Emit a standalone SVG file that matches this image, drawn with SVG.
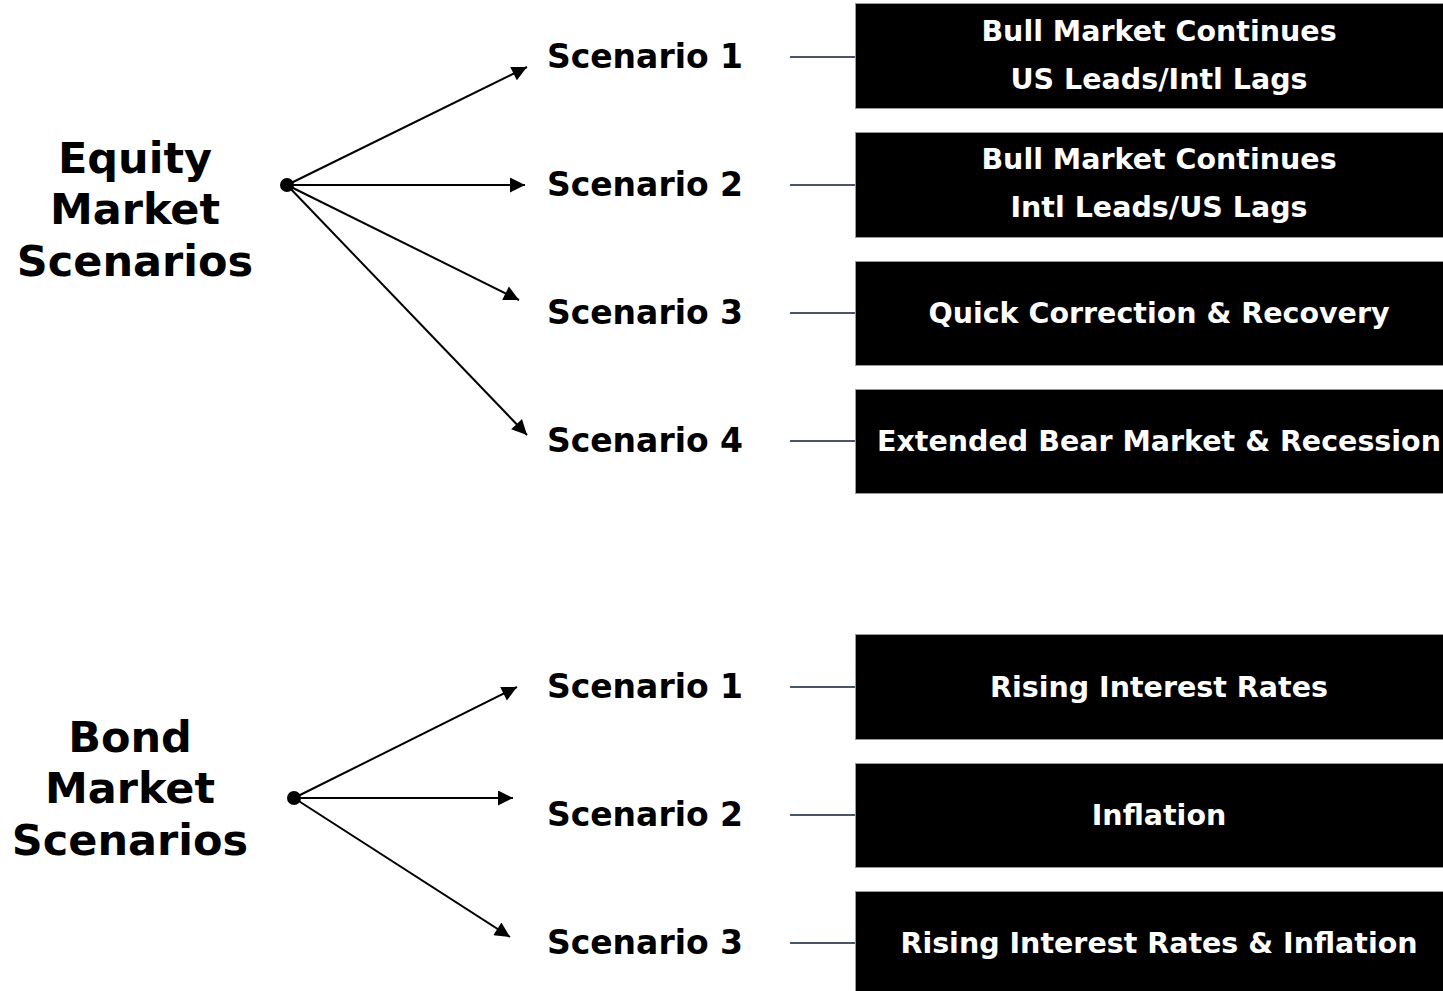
<svg xmlns="http://www.w3.org/2000/svg" width="1443" height="991" viewBox="0 0 1443 991">
  <style>
    .head { font-family: "DejaVu Sans", "Liberation Sans", sans-serif; font-weight: bold; font-size: 43px; fill: #000; text-anchor: middle; }
    .scn { font-family: "DejaVu Sans", "Liberation Sans", sans-serif; font-weight: bold; font-size: 33px; fill: #000; text-anchor: middle; }
    .box { fill: #000; stroke: #9a9a9a; stroke-width: 1; }
    .btxt { font-family: "DejaVu Sans", "Liberation Sans", sans-serif; font-weight: bold; font-size: 28.5px; fill: #fff; text-anchor: middle; }
    .arr { stroke: #000; stroke-width: 2; fill: none; marker-end: url(#ah); }
    .tie { stroke: #4a5566; stroke-width: 2; }
  </style>
  <defs>
    <marker id="ah" viewBox="0 0 10 10" refX="10" refY="5" markerWidth="8" markerHeight="7.5" markerUnits="strokeWidth" orient="auto">
      <path d="M0,0 L10,5 L0,10 z" fill="#000"/>
    </marker>
  </defs>
  <rect width="1443" height="991" fill="#fff"/>

  <g id="equity-head">
    <text class="head" x="135" y="173">Equity</text>
    <text class="head" x="135" y="224">Market</text>
    <text class="head" x="135" y="276">Scenarios</text>
    <circle cx="287" cy="185" r="7" fill="#000"/>
  </g>
  <g id="bond-head">
    <text class="head" x="130" y="752">Bond</text>
    <text class="head" x="130" y="803">Market</text>
    <text class="head" x="130" y="855">Scenarios</text>
    <circle cx="294" cy="798" r="7" fill="#000"/>
  </g>

  <g id="connectors">
    <line class="arr" x1="287" y1="185" x2="527" y2="67"/>
    <line class="arr" x1="287" y1="185" x2="525" y2="185"/>
    <line class="arr" x1="287" y1="185" x2="519" y2="300"/>
    <line class="arr" x1="287" y1="185" x2="527" y2="435"/>
    <line class="arr" x1="294" y1="798" x2="517" y2="687"/>
    <line class="arr" x1="294" y1="798" x2="513" y2="798"/>
    <line class="arr" x1="294" y1="798" x2="510" y2="937"/>
    <line class="tie" x1="790" y1="57" x2="856" y2="57"/>
    <line class="tie" x1="790" y1="185" x2="856" y2="185"/>
    <line class="tie" x1="790" y1="313" x2="856" y2="313"/>
    <line class="tie" x1="790" y1="441" x2="856" y2="441"/>
    <line class="tie" x1="790" y1="687" x2="856" y2="687"/>
    <line class="tie" x1="790" y1="815" x2="856" y2="815"/>
    <line class="tie" x1="790" y1="943" x2="856" y2="943"/>
  </g>

  <g id="eq-s1"><text class="scn" x="645" y="68">Scenario 1</text></g>
  <g id="eq-s2"><text class="scn" x="645" y="196">Scenario 2</text></g>
  <g id="eq-s3"><text class="scn" x="645" y="324">Scenario 3</text></g>
  <g id="eq-s4"><text class="scn" x="645" y="452">Scenario 4</text></g>
  <g id="bd-s1"><text class="scn" x="645" y="698">Scenario 1</text></g>
  <g id="bd-s2"><text class="scn" x="645" y="826">Scenario 2</text></g>
  <g id="bd-s3"><text class="scn" x="645" y="954">Scenario 3</text></g>

  <g id="eq-b1">
    <rect class="box" x="855.5" y="3.5" width="600" height="105"/>
    <text class="btxt" x="1159" y="41">Bull Market Continues</text>
    <text class="btxt" x="1159" y="89">US Leads/Intl Lags</text>
  </g>
  <g id="eq-b2">
    <rect class="box" x="855.5" y="132.5" width="600" height="105"/>
    <text class="btxt" x="1159" y="169">Bull Market Continues</text>
    <text class="btxt" x="1159" y="217">Intl Leads/US Lags</text>
  </g>
  <g id="eq-b3">
    <rect class="box" x="855.5" y="261.5" width="600" height="104"/>
    <text class="btxt" x="1159" y="323">Quick Correction &amp; Recovery</text>
  </g>
  <g id="eq-b4">
    <rect class="box" x="855.5" y="389.5" width="600" height="104"/>
    <text class="btxt" x="1159" y="451">Extended Bear Market &amp; Recession</text>
  </g>
  <g id="bd-b1">
    <rect class="box" x="855.5" y="634.5" width="600" height="105"/>
    <text class="btxt" x="1159" y="697">Rising Interest Rates</text>
  </g>
  <g id="bd-b2">
    <rect class="box" x="855.5" y="763.5" width="600" height="104"/>
    <text class="btxt" x="1159" y="825">Inflation</text>
  </g>
  <g id="bd-b3">
    <rect class="box" x="855.5" y="891.5" width="600" height="110"/>
    <text class="btxt" x="1159" y="953">Rising Interest Rates &amp; Inflation</text>
  </g>
</svg>
